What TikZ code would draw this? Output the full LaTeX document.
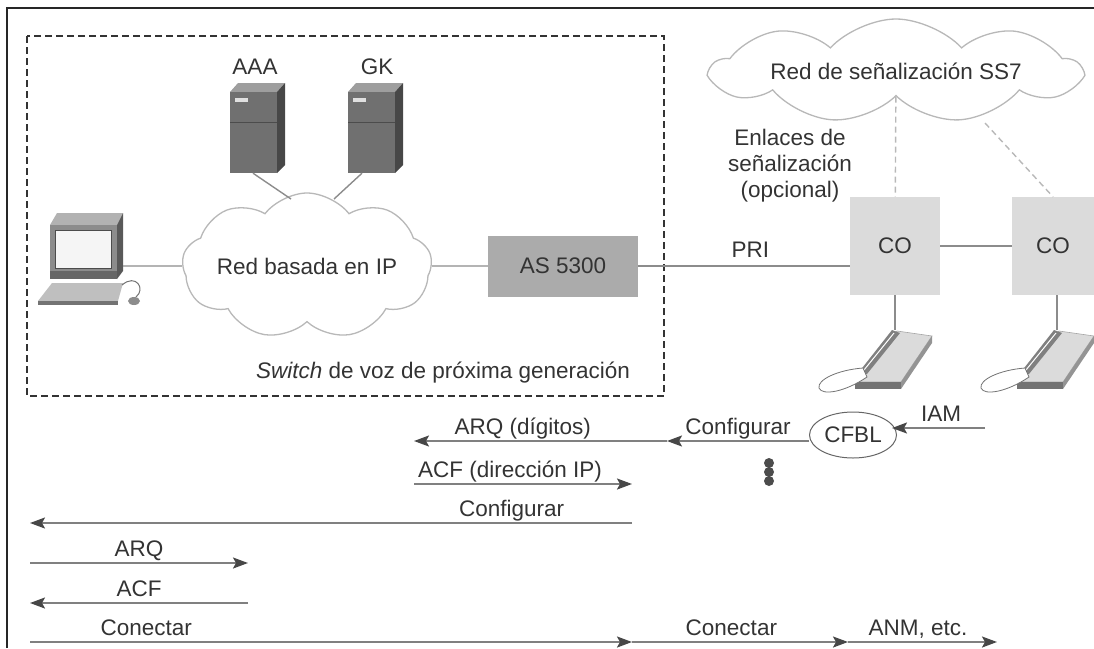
\documentclass[tikz,border=0pt]{standalone}
\usepackage{fontspec}
\setmainfont{Liberation Sans}
\definecolor{tinta}{gray}{.2}
\definecolor{trazo}{gray}{.55}
\definecolor{flecha}{gray}{.5}
\definecolor{punta}{gray}{.28}
\definecolor{borde-nube}{gray}{.72}
\definecolor{caja-gw}{gray}{.67}
\definecolor{caja-co}{gray}{.86}
\usetikzlibrary{positioning,arrows.meta,shapes.geometric,shapes.symbols,calc}

\tikzset{
  server/.pic={
    \fill[black!38] (0,9) -- (8,0) -- (55,0) -- (47,9) -- cycle;
    \fill[black!72] (47,9) -- (55,0) -- (55,82) -- (47,90) -- cycle;
    \fill[black!56] (0,9) rectangle (47,90);
    \draw[black!70, line width=1pt] (0,39) -- (47,39);
    \fill[black!12] (5,15) rectangle (18,19);
    \node[inner sep=0, minimum width=55pt, minimum height=90pt] (-box) at (27.5,45) {};
  },
  pc/.pic={
    \fill[black!30] (12,12) -- (19,0) -- (85,0) -- (79,12) -- cycle;
    \fill[black!65] (79,12) -- (85,0) -- (85,58) -- (79,66) -- cycle;
    \fill[black!45] (12,12) rectangle (79,66);
    \filldraw[fill=black!4, draw=black!70, line width=.8pt] (17,17) rectangle (73,55);
    \fill[black!60] (12,58) rectangle (79,66);
    \fill[black!25] (0,88) -- (14,70) -- (85,70) -- (80,88) -- cycle;
    \fill[black!55] (0,88) rectangle (80,92);
    \draw[black!55, line width=1pt] (84,72) .. controls (98,60) and (108,76) .. (98,84);
    \fill[black!45] (96,88) ellipse (6pt and 4pt);
    \node[inner sep=0, minimum width=85pt, minimum height=92pt] (-box) at (42.5,46) {};
  },
  phone/.pic={
    \filldraw[fill=black!14, draw=black!35, line width=.6pt] (40,52) -- (86,52) -- (117,6) -- (82,1) -- cycle;
    \fill[black!55] (40,52) -- (86,52) -- (86,59) -- (40,59) -- cycle;
    \fill[black!42] (86,52) -- (117,6) -- (117,13) -- (86,59) -- cycle;
    \fill[black!50] (77,0) -- (85,3) -- (52,44) -- (44,42) -- cycle;
    \draw[white, line width=1pt] (79,3) -- (49,40);
    \filldraw[fill=white, draw=black!55, line width=.8pt] (48,38) .. controls (22,40) and (2,50) .. (4,58) .. controls (7,66) and (30,62) .. (52,47) -- cycle;
    \coordinate (-top) at (80,0);
  }
}

\begin{document}
\begin{tikzpicture}[
    x=1pt, y=-1pt,
    font=\fontsize{22.5}{26}\selectfont,
    >={Stealth[length=15pt,width=11pt,inset=3pt,color=punta]},
    txt/.style={text=tinta, inner sep=2pt},
    lbl/.style={txt, above, text height=16pt, text depth=4pt},
    link/.style={draw=trazo, line width=1.4pt},
    sig/.style={draw=borde-nube, line width=1.4pt, dash pattern=on 6pt off 4pt},
    msg/.style={->, draw=flecha, line width=2pt},
    region/.style={draw=black!80, line width=2pt, dash pattern=on 7pt off 4pt},
    frame/.style={draw=black!85, line width=2.5pt},
    nube/.style={cloud, cloud puffs=9, cloud puff arc=105, cloud ignores aspect,
      draw=borde-nube, line width=1.3pt, fill=white, txt},
    gw/.style={rectangle, fill=caja-gw, minimum width=150pt, minimum height=61pt, txt},
    office/.style={rectangle, fill=caja-co, minimum height=98pt, txt},
    cfblnode/.style={ellipse, draw=black!60, line width=1pt, minimum width=72pt,
      minimum height=46pt, inner sep=0pt, txt}
  ]
    \useasboundingbox (0,0) rectangle (1094,648);
    \draw[frame] (7,648) -- (7,8) -- (1094,8);
    \draw[region] (27,36) rectangle (664,396);

    % red IP y servidores
    \node[nube, minimum width=241pt, minimum height=146pt] (ipnet) at (307,266) {Red basada en IP};
    \pic (aaa) at (230,83) {server};
    \pic (gk) at (348,83) {server};
    \node[txt] (aaa-lbl) at (255,67) {AAA};
    \node[txt] (gk-lbl) at (377,67) {GK};
    \pic (pc) at (38,213) {pc};
    \coordinate (ipnet-a) at (291,199);
    \coordinate (ipnet-g) at (334,199);
    \draw[link] (aaa-box.south -| 253,0) -- (ipnet-a);
    \draw[link] (gk-box.south -| 362,0) -- (ipnet-g);
    \draw[link] (pc-box.east |- ipnet) -- (ipnet);

    \node[gw] (as5300) at (563,266) {AS 5300};
    \draw[link] (ipnet) -- (as5300);
    \node[txt] (sw-lbl) at (443,373) {\textit{Switch} de voz de próxima generación};

    % lado PSTN
    \node[nube, minimum width=368pt, minimum height=104pt, cloud puff arc=95] (ss7) at (896,71) {Red de señalización SS7};
    \node[office, minimum width=90pt] (co1) at (895,246) {CO};
    \node[office, minimum width=82pt] (co2) at (1053,246) {CO};
    \node[txt, align=center] (enl) at (790,166) {Enlaces de\\señalización\\(opcional)};
    \draw[link] (as5300.east) -- (as5300.east -| co1.west) node[lbl, pos=.53, yshift=2pt] (pri) {PRI};
    \draw[link] (co1) -- (co2);
    \coordinate (ss7-b) at (985,123);
    \draw[sig] (ss7) -- (co1);
    \draw[sig] (ss7-b) -- (co2.north);
    \pic (tel1) at (815,330) {phone};
    \pic (tel2) at (977,330) {phone};
    \draw[link] (co1) -- (tel1-top);
    \draw[link] (co2.south -| tel2-top) -- (tel2-top);

    % mensajes
    \node[cfblnode] (cfbl) at (853,435) {CFBL};
    \coordinate (iam-in) at (985,428);
    \coordinate (gw-a) at (667,441);
    \coordinate (gk-a) at (414,441);
    \draw[msg, shorten >=-5pt] (iam-in) -- (iam-in -| cfbl.east) node[lbl, midway] (iam) {IAM};
    \draw[msg] (gw-a -| cfbl.west) -- (gw-a) node[lbl, midway] (cfg1) {Configurar};
    \draw[msg] (gw-a) -- (gk-a) node[lbl, pos=.57] (arqd) {ARQ (dígitos)};
    \foreach \k in {0,1,2}
      \fill[black!70] (769,463+9*\k) circle (5pt);

    \coordinate (gk-b) at (414,484);
    \coordinate (gw-b) at (632,484);
    \draw[msg] (gk-b) -- (gw-b) node[lbl, pos=.44] (acfip) {ACF (dirección IP)};

    \coordinate (gw-c) at (632,523);
    \coordinate (pc-c) at (30,523);
    \draw[msg] (gw-c) -- (pc-c) node[lbl, pos=.2] (cfg2) {Configurar};

    \coordinate (pc-d) at (30,563);
    \coordinate (gk-d) at (248,563);
    \draw[msg] (pc-d) -- (gk-d) node[lbl, midway] (arq) {ARQ};

    \coordinate (gk-e) at (248,603);
    \coordinate (pc-e) at (30,603);
    \draw[msg] (gk-e) -- (pc-e) node[lbl, midway] (acf) {ACF};

    \coordinate (pc-f) at (30,642);
    \coordinate (gw-f) at (632,642);
    \coordinate (co-f) at (848,642);
    \coordinate (end-f) at (997,642);
    \draw[msg] (pc-f) -- (gw-f) node[lbl, pos=.193] (con1) {Conectar};
    \draw[msg] (gw-f) -- (co-f) node[lbl, pos=.46] (con2) {Conectar};
    \draw[msg] (co-f) -- (end-f) node[lbl, pos=.47] (anm) {ANM, etc.};
  \end{tikzpicture}
\end{document}
